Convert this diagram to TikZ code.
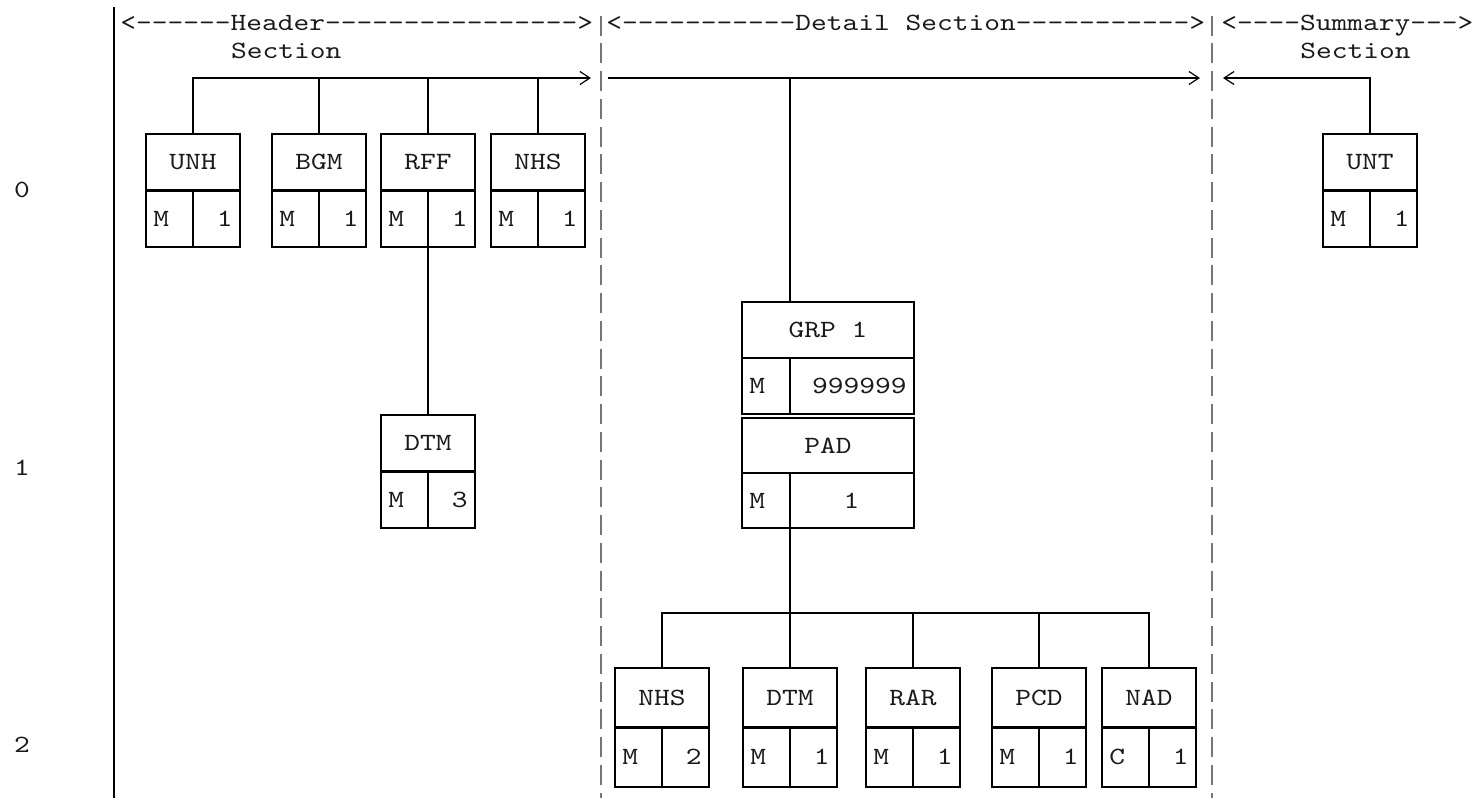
\documentclass[tikz,border=0pt]{standalone}
\usepackage{fontspec}
\usetikzlibrary{arrows.meta}
\setmonofont{lmmono10-regular.otf}[FakeStretch=1.21]
\definecolor{ink}{HTML}{1A1A1A}
\definecolor{sepc}{HTML}{767676}
\tikzset{
  txt/.style={font=\ttfamily\fontsize{12.4}{14}\selectfont, text=ink, inner sep=0pt},
  box/.style={draw=black, line width=1.1pt},
  link/.style={black, line width=1pt},
  barb/.style={-{Straight Barb[length=5pt, width=6.5pt, line width=0.6pt]}},
  rim/.style={black, line width=1.2pt},
  sep/.style={sepc, line width=0.9pt, dash pattern=on 10pt off 3.875pt},
}
% id, divider x, top y, half height, left w, right w, tag, status, repeat
\newcommand{\seg}[9]{%
  \draw[box] ({#2-#5},#3) rectangle ({#2+#6},{#3+2*#4});
  \draw[box] ({#2-#5},{#3+#4}) -- ({#2+#6},{#3+#4});
  \draw[box] (#2,{#3+#4}) -- (#2,{#3+2*#4});
  \node[txt] (#1) at ({#2+(#6-#5)/2},{#3+#4/2}) {#7};
  \node[txt, anchor=west] (#1-st) at ({#2-#5+7},{#3+1.5*#4}) {#8};
  \node[txt, anchor=east] (#1-rep) at ({#2+#6-7},{#3+1.5*#4}) {#9};
  \coordinate (#1-top) at (#2,#3);
  \coordinate (#1-bot) at (#2,{#3+2*#4});}

\begin{document}
\begin{tikzpicture}[x=0.5pt, y=-0.5pt]
  \useasboundingbox (0,0) rectangle (1476,798);
  % section bars
  \draw[rim] (114,7) -- (114,798);
  \draw[sep] (601,15.5) -- (601,798);
  \draw[sep] (1212,15.5) -- (1212,798);
  % headings
  \node[txt, anchor=base west] (hdr) at (120,30) {<------Header---------------->};
  \node[txt, anchor=base west] (hdrsec) at (230.6,58) {Section};
  \node[txt, anchor=base west] (dtl) at (606,30) {<-----------Detail Section----------->};
  \node[txt, anchor=base west] (sum) at (1221,30) {<----Summary--->};
  \node[txt, anchor=base west] (sumsec) at (1300,58) {Section};
  % levels
  \node[txt] (lv0) at (22,190) {0};
  \node[txt] (lv1) at (22,468) {1};
  \node[txt] (lv2) at (22,745) {2};
  % header section
  \seg{unh}{193}{134}{56.5}{47}{47}{UNH}{M}{1}
  \seg{bgm}{319}{134}{56.5}{47}{47}{BGM}{M}{1}
  \seg{rff}{428}{134}{56.5}{47}{47}{RFF}{M}{1}
  \seg{nhsa}{538}{134}{56.5}{47}{47}{NHS}{M}{1}
  \seg{dtma}{428}{415}{56.5}{47}{47}{DTM}{M}{3}
  % detail section
  \seg{grp}{790}{302}{56}{48}{124}{GRP 1}{M}{999999}
  \seg{pad}{790}{418}{55}{48}{124}{PAD}{M}{1\phantom{000}}
  \seg{nhsb}{662}{668}{59.5}{47}{47}{NHS}{M}{2}
  \seg{dtmb}{790}{668}{59.5}{47}{47}{DTM}{M}{1}
  \seg{rar}{913}{668}{59.5}{47}{47}{RAR}{M}{1}
  \seg{pcd}{1039}{668}{59.5}{47}{47}{PCD}{M}{1}
  \seg{nad}{1149}{668}{59.5}{47}{47}{NAD}{C}{1}
  % summary section
  \seg{unt}{1370}{134}{56.5}{47}{47}{UNT}{M}{1}
  % connectors
  \coordinate (hdrend) at (591,78);
  \coordinate (dtlbeg) at (608,78);
  \coordinate (dtlend) at (1200,78);
  \coordinate (sumend) at (1223,78);
  \coordinate (bus) at (790,613);
  \draw[link, barb] (unh-top) |- (hdrend);
  \foreach \s in {bgm,rff,nhsa} \draw[link] (\s-top) -- (\s-top |- hdrend);
  \draw[link] (rff-bot) -- (dtma-top);
  \draw[link, barb] (dtlbeg) -- (dtlend);
  \draw[link] (grp-top) -- (grp-top |- dtlbeg);
  \draw[link, barb] (unt-top) |- (sumend);
  \draw[link] (pad-bot) -- (bus);
  \draw[link] (nhsb-top) |- (bus) -| (nad-top);
  \foreach \s in {dtmb,rar,pcd} \draw[link] (\s-top) -- (\s-top |- bus);
\end{tikzpicture}
\end{document}
